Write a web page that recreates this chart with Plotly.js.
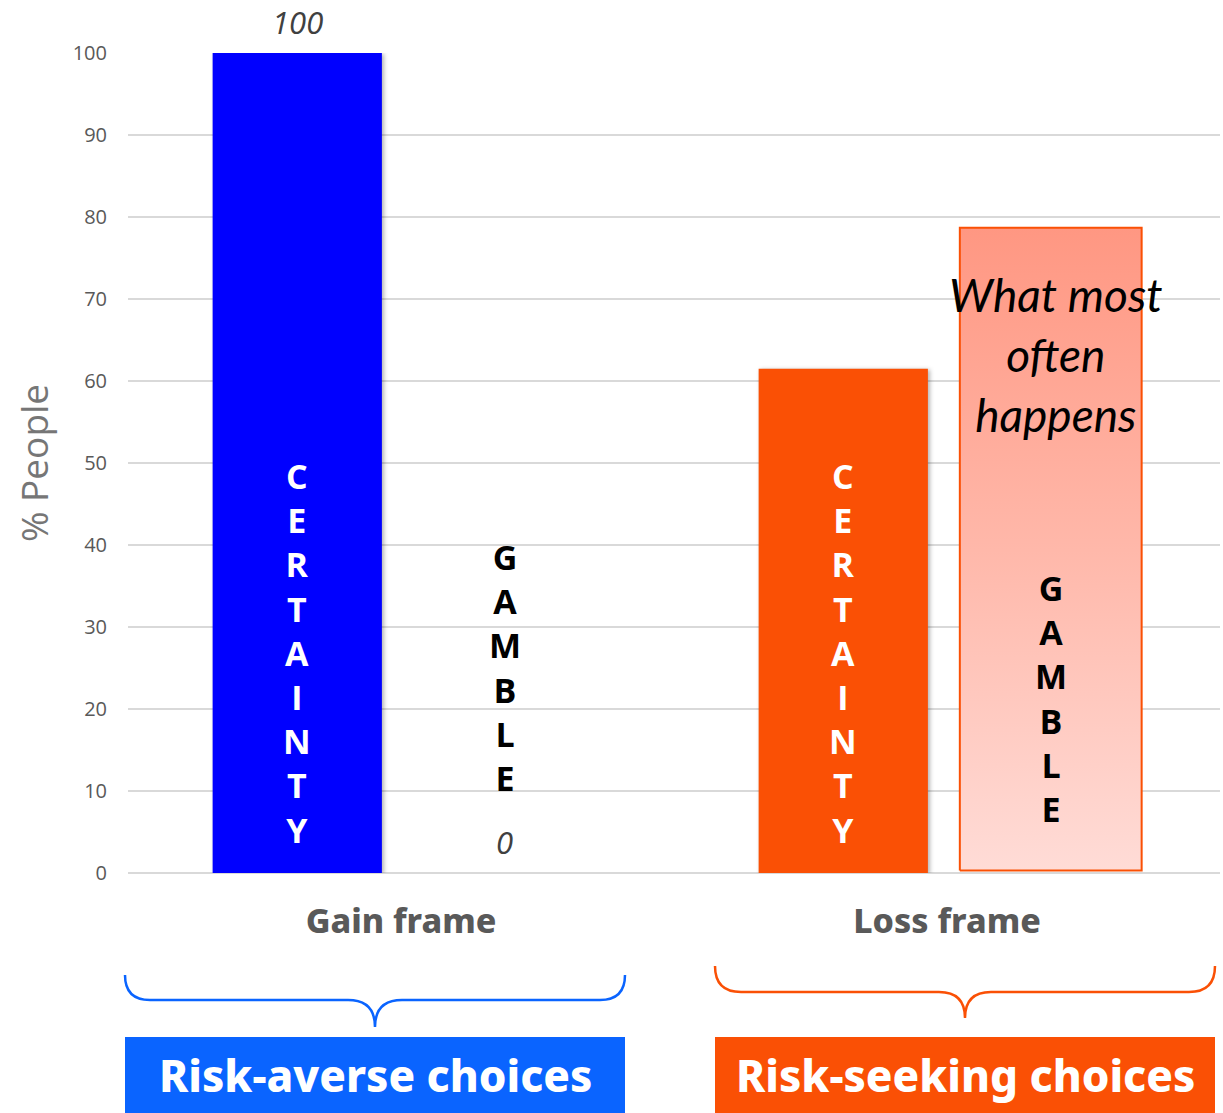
<!DOCTYPE html>
<html>
<head>
<meta charset="utf-8">
<script src="https://cdn.plot.ly/plotly-3.0.1.min.js"></script>
<style>
  html, body { margin: 0; padding: 0; background: #ffffff; }
  #chart { width: 1223px; height: 1113px; }
  /* soft shadow on the solid bars */
  #chart .barlayer .point path { filter: drop-shadow(2px 1px 2px rgba(0,0,0,0.3)); }
</style>
</head>
<body>
<div id="chart"></div>
<script>
// Framing experiment: share of people choosing the sure option vs the gamble
const categories = ['Gain frame', 'Loss frame'];
const certaintyValues = [100, 61.5];
const gambleValues = [0, 78.7];
const certaintyColors = ['#0000FF', '#FA5005'];
const certaintyWord = 'CERTAINTY';
const gambleWord = 'GAMBLE';
const yTickValues = [0, 10, 20, 30, 40, 50, 60, 70, 80, 90, 100];
const yTitle = '% People';
const highlightText = 'What most<br>often<br>happens';
const choiceLabels = ['Risk-averse choices', 'Risk-seeking choices'];
const choiceColors = ['#0A64FF', '#FA5005'];

// geometry of the grouped bars (in x-axis units, one category = 1)
const SHIFT = 0.19;
const BAR_W = 0.31;
const HIGHLIGHT_W = 0.333;

const xs = categories.map((c, i) => i);
const xCert = xs.map(x => x - SHIFT);
const xGamb = xs.map(x => x + SHIFT);
const gambleWidths = xs.map(i => (i === 1 ? HIGHLIGHT_W : BAR_W));

const traces = [
  {
    type: 'bar',
    x: xCert,
    y: certaintyValues,
    width: BAR_W,
    marker: { color: certaintyColors, line: { width: 0 } },
    hoverinfo: 'y',
    showlegend: false
  },
  {
    type: 'bar',
    x: xGamb,
    y: gambleValues,
    width: gambleWidths,
    marker: { color: 'rgba(0,0,0,0)', line: { width: 0 } },
    hoverinfo: 'y',
    showlegend: false
  }
];

// the loss-frame gamble bar gets a vertical gradient fill and an orange border
const hi = 1;
const hx0 = xGamb[hi] - HIGHLIGHT_W / 2;
const hx1 = xGamb[hi] + HIGHLIGHT_W / 2;
traces.push({
  type: 'scatter',
  mode: 'lines',
  x: [hx0, hx1, hx1, hx0, hx0],
  y: [0.3, 0.3, gambleValues[hi], gambleValues[hi], 0.3],
  fill: 'toself',
  fillgradient: {
    type: 'vertical',
    start: 0,
    stop: gambleValues[hi],
    colorscale: [[0, '#FFDCD7'], [0.5, '#FFB8AA'], [1, '#FF9782']]
  },
  line: { color: '#FA5005', width: 2 },
  hoverinfo: 'skip',
  showlegend: false
});

const stack = w => w.split('').join('<br>');
const letterFont = { family: 'Open Sans, sans-serif', size: 34, weight: 700 };

const annotations = [];

// values written above the gain-frame bars
[[xCert[0], certaintyValues[0]], [xGamb[0], gambleValues[0]]].forEach(([x, v]) => {
  annotations.push({
    x: x, y: v, xref: 'x', yref: 'y',
    text: String(v), showarrow: false,
    yanchor: 'middle', yshift: 31, borderpad: 0,
    font: { family: 'Open Sans, sans-serif', size: 31, style: 'italic', color: '#404040' }
  });
});

// vertical words inside / over the bars
xCert.forEach(x => {
  annotations.push({
    x: x, y: 26.8, xref: 'x', yref: 'y',
    text: stack(certaintyWord), showarrow: false,
    yanchor: 'middle',
    font: Object.assign({ color: '#FFFFFF' }, letterFont)
  });
});
[25.05, 21.3].forEach((yc, i) => {
  annotations.push({
    x: xGamb[i], y: yc, xref: 'x', yref: 'y',
    text: stack(gambleWord), showarrow: false,
    yanchor: 'middle',
    font: Object.assign({ color: '#000000' }, letterFont)
  });
});

annotations.push({
  x: xGamb[hi] + 0.01, y: 63.2, xref: 'x', yref: 'y',
  text: highlightText, showarrow: false,
  yanchor: 'middle',
  font: { family: 'Lato, sans-serif', size: 46, style: 'italic', color: '#000000' }
});

// pixel -> paper helpers for the braces and the choice boxes
const W = 1223, H = 1113;
const M = { l: 128, r: 3, t: 53, b: 240 };
const PW = W - M.l - M.r, PH = H - M.t - M.b;
const px = v => (v - M.l) / PW;
const py = v => (H - M.b - v) / PH;

function bracePath(x0, x1, yTop, yLine, yTip) {
  const r = yLine - yTop;
  const xm = (x0 + x1) / 2;
  const tr = yTip - yLine;
  const P = (x, y) => px(x).toFixed(5) + ',' + py(y).toFixed(5);
  return 'M' + P(x0, yTop) +
    ' Q' + P(x0, yLine) + ' ' + P(x0 + r, yLine) +
    ' L' + P(xm - tr, yLine) +
    ' Q' + P(xm, yLine) + ' ' + P(xm, yTip) +
    ' Q' + P(xm, yLine) + ' ' + P(xm + tr, yLine) +
    ' L' + P(x1 - r, yLine) +
    ' Q' + P(x1, yLine) + ' ' + P(x1, yTop);
}

const boxes = [
  { x0: 125, x1: 625, brace: [975, 1000, 1027] },
  { x0: 715, x1: 1215, brace: [966, 992, 1018] }
];

const shapes = [];
boxes.forEach((b, i) => {
  shapes.push({
    type: 'path', xref: 'paper', yref: 'paper',
    path: bracePath(b.x0, b.x1, b.brace[0], b.brace[1], b.brace[2]),
    line: { color: choiceColors[i], width: 2.5 }
  });
  shapes.push({
    type: 'rect', xref: 'paper', yref: 'paper',
    x0: px(b.x0), x1: px(b.x1), y0: py(1037), y1: py(1113 + 5),
    fillcolor: choiceColors[i], line: { width: 0 }
  });
  annotations.push({
    xref: 'paper', yref: 'paper',
    x: px((b.x0 + b.x1) / 2), y: py(1075),
    text: choiceLabels[i], showarrow: false,
    xanchor: 'center', yanchor: 'middle',
    font: { family: 'Noto Sans, sans-serif', size: 44, weight: 800, color: '#FFFFFF' }
  });
});

const layout = {
  width: W,
  height: H,
  margin: M,
  paper_bgcolor: '#FFFFFF',
  plot_bgcolor: '#FFFFFF',
  barmode: 'overlay',
  showlegend: false,
  xaxis: {
    range: [-0.5, 1.5],
    tickvals: xs,
    ticktext: categories,
    ticks: '',
    showgrid: false,
    zeroline: false,
    showline: false,
    ticklabelstandoff: 25,
    tickfont: { family: 'Noto Sans, sans-serif', size: 34, weight: 800, color: '#595959' },
    fixedrange: true
  },
  yaxis: {
    range: [0, 100],
    tickvals: yTickValues,
    ticks: '',
    showgrid: true,
    gridcolor: '#D9D9D9',
    gridwidth: 2,
    zeroline: true,
    zerolinecolor: '#D9D9D9',
    zerolinewidth: 2,
    showline: false,
    ticklabelstandoff: 20,
    tickfont: { family: 'Open Sans, sans-serif', size: 20, color: '#595959' },
    title: {
      text: yTitle,
      standoff: 12,
      font: { family: 'Open Sans, sans-serif', size: 37, color: '#767676' }
    },
    fixedrange: true
  },
  annotations: annotations,
  shapes: shapes
};

Plotly.newPlot('chart', traces, layout, { displayModeBar: false, staticPlot: true });
</script>
</body>
</html>
